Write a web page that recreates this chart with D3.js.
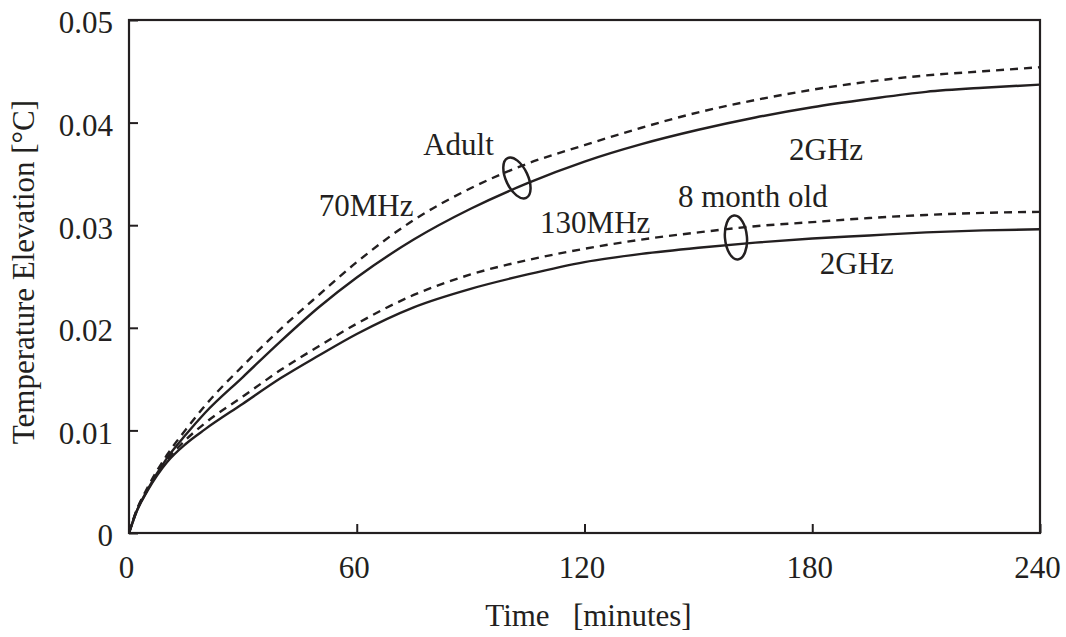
<!DOCTYPE html>
<html>
<head>
<meta charset="utf-8">
<script src="https://cdn.jsdelivr.net/npm/d3@7"></script>
<style>
  html, body { margin: 0; padding: 0; background: #fff; }
  svg text { font-family: "Liberation Serif", "Times New Roman", serif; fill: #231f20; }
</style>
</head>
<body>
<svg id="chart" width="1066" height="637"></svg>
<script>
// time in minutes
const times = [0, 2, 5, 10, 15, 20, 30, 40, 50, 60, 75, 90, 105, 120, 135, 150, 165, 180, 195, 210, 225, 240];

// temperature elevation [°C]
const adult70MHz = [0, 0.0022, 0.0045, 0.0076, 0.0101, 0.0124, 0.0163, 0.0199, 0.0232, 0.0264, 0.0305, 0.0336, 0.0360, 0.0378, 0.0395, 0.0410, 0.0422, 0.0432, 0.0440, 0.0446, 0.0450, 0.0454];
const adult2GHz = [0, 0.0021, 0.0043, 0.0073, 0.0096, 0.0117, 0.0152, 0.0187, 0.0220, 0.0249, 0.0286, 0.0316, 0.0341, 0.0362, 0.0379, 0.0393, 0.0405, 0.0415, 0.0423, 0.0430, 0.0434, 0.0437];
const infant130MHz = [0, 0.0022, 0.0043, 0.0071, 0.0091, 0.0107, 0.0133, 0.0159, 0.0182, 0.0204, 0.0232, 0.0252, 0.0266, 0.0277, 0.0286, 0.0293, 0.0299, 0.0303, 0.0307, 0.0310, 0.0312, 0.0313];
const infant2GHz = [0, 0.0021, 0.0042, 0.0069, 0.0087, 0.0101, 0.0126, 0.0151, 0.0173, 0.0194, 0.0220, 0.0238, 0.0252, 0.0264, 0.0272, 0.0278, 0.0283, 0.0287, 0.0290, 0.0293, 0.0295, 0.0296];

const xTicks = [0, 60, 120, 180, 240];
const yTicks = [0, 0.01, 0.02, 0.03, 0.04, 0.05];

// text notes, in data units (time, value at baseline start)
const notes = [
  { text: "Adult", t: 77.5, v: 0.0368 },
  { text: "70MHz", t: 50.0, v: 0.0309 },
  { text: "130MHz", t: 108.3, v: 0.0292 },
  { text: "8 month old", t: 144.6, v: 0.0318 },
  { text: "2GHz", t: 173.9, v: 0.0364 },
  { text: "2GHz", t: 182.0, v: 0.0252 }
];
// group ellipses (centre in data units)
const loops = [
  { t: 102.2, v: 0.0346, angle: -25 },
  { t: 159.9, v: 0.0288, angle: -5 }
];

const series = [
  { values: adult70MHz, dashed: true },
  { values: adult2GHz, dashed: false },
  { values: infant130MHz, dashed: true },
  { values: infant2GHz, dashed: false }
];

const W = 1066, H = 637;
const margin = { top: 20, right: 26, bottom: 104, left: 129 };
const width = W - margin.left - margin.right;
const height = H - margin.top - margin.bottom;
const ink = "#231f20";

const svg = d3.select("#chart");
const g = svg.append("g").attr("transform", `translate(${margin.left},${margin.top})`);

const x = d3.scaleLinear().domain([0, 240]).range([0, width]);
const y = d3.scaleLinear().domain([0, 0.05]).range([height, 0]);

// axes, ticks pointing inward
const xAxis = g.append("g")
  .attr("transform", `translate(0,${height})`)
  .call(d3.axisBottom(x).tickValues(xTicks).tickSizeInner(-9).tickSizeOuter(0).tickPadding(23));
xAxis.selectAll("text").attr("font-size", 31).attr("dx", -3);

const yAxis = g.append("g")
  .call(d3.axisLeft(y).tickValues(yTicks)
    .tickFormat(d => d === 0 ? "0" : d3.format(".2f")(d))
    .tickSizeInner(-9).tickSizeOuter(0).tickPadding(16));
yAxis.selectAll("text").attr("font-size", 31).attr("y", 3);

svg.selectAll(".domain").remove();
svg.selectAll(".tick line").attr("stroke", ink).attr("stroke-width", 2);
svg.selectAll(".tick text").attr("fill", ink).attr("font-family", "Liberation Serif");

// frame
g.append("rect")
  .attr("x", 0).attr("y", 0)
  .attr("width", width).attr("height", height)
  .attr("fill", "none")
  .attr("stroke", ink)
  .attr("stroke-width", 2.2);

// curves
const line = d3.line()
  .x((d, i) => x(times[i]))
  .y(d => y(d))
  .curve(d3.curveMonotoneX);

g.append("g").selectAll("path")
  .data(series)
  .enter().append("path")
  .attr("d", d => line(d.values))
  .attr("fill", "none")
  .attr("stroke", ink)
  .attr("stroke-width", 2.4)
  .attr("stroke-dasharray", d => d.dashed ? "8,6" : null);

// group loops
g.append("g").selectAll("ellipse")
  .data(loops)
  .enter().append("ellipse")
  .attr("transform", d => `translate(${x(d.t)},${y(d.v)}) rotate(${d.angle})`)
  .attr("rx", 11)
  .attr("ry", 22)
  .attr("fill", "none")
  .attr("stroke", ink)
  .attr("stroke-width", 2.5);

// notes
g.append("g").selectAll("text")
  .data(notes)
  .enter().append("text")
  .attr("x", d => x(d.t))
  .attr("y", d => y(d.v))
  .attr("font-size", 31)
  .text(d => d.text);

// axis titles
svg.append("text")
  .attr("x", margin.left + width / 2 + 4)
  .attr("y", 626)
  .attr("text-anchor", "middle")
  .attr("font-size", 31)
  .style("white-space", "pre")
  .text("Time   [minutes]");

svg.append("text")
  .attr("transform", "translate(34,100) rotate(-90)")
  .attr("text-anchor", "end")
  .attr("font-size", 31)
  .text("Temperature Elevation [°C]");
</script>
</body>
</html>
